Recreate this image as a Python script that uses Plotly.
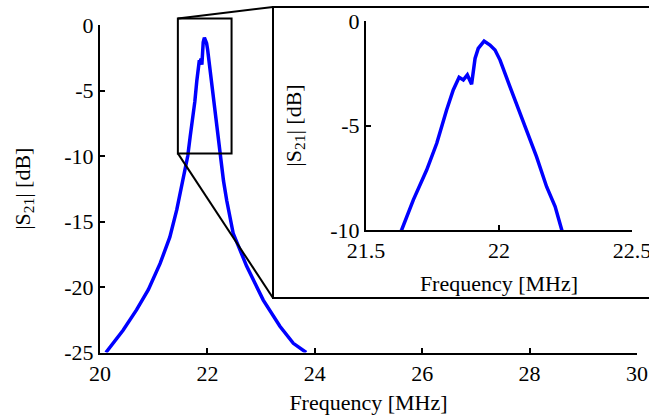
import plotly.graph_objects as go

# measured |S21| curve (MHz, dB)
freq = [20.11, 20.43, 20.68, 20.90, 21.12, 21.30, 21.43, 21.53, 21.634, 21.678,
        21.728, 21.766, 21.803, 21.828, 21.850, 21.866, 21.881, 21.897, 21.910,
        21.922, 21.944, 21.966, 21.985, 22.004, 22.041, 22.092, 22.141, 22.179,
        22.211, 22.236, 22.30, 22.36, 22.48, 22.73, 23.04, 23.35, 23.60, 23.84]
s21 = [-25.0, -23.3, -21.75, -20.2, -18.2, -16.2, -14.1, -12.0, -10.0, -8.56,
       -7.13, -5.85, -4.26, -3.30, -2.69, -2.82, -2.58, -3.03, -1.79,
       -1.31, -0.96, -1.15, -1.39, -1.87, -3.14, -4.89, -6.49, -7.93,
       -8.88, -10.0, -11.9, -13.4, -15.9, -18.4, -21.0, -23.0, -24.3, -25.0]

main_xticks = [20, 22, 24, 26, 28, 30]
main_yticks = [0, -5, -10, -15, -20, -25]
inset_xticks = [21.5, 22, 22.5]
inset_yticks = [0, -5, -10]
zoom_x = [21.45, 22.45]
zoom_y = [-9.8, 0.5]

W, H = 649, 417
FONT = dict(family="Liberation Serif, Times New Roman, serif", size=22, color="black")
BLUE = "#0000ff"

main_xdom = [100 / W, 637 / W]
main_ydom = [1 - 352.5 / H, 1 - 25 / H]
inset_xdom = [366 / W, 632 / W]
inset_ydom = [1 - 230 / H, 1 - 21 / H]
main_xr = [20, 30]
main_yr = [-25, 0]

def to_paper_x(v):
    return main_xdom[0] + (v - main_xr[0]) / (main_xr[1] - main_xr[0]) * (main_xdom[1] - main_xdom[0])

def to_paper_y(v):
    return main_ydom[0] + (v - main_yr[0]) / (main_yr[1] - main_yr[0]) * (main_ydom[1] - main_ydom[0])

def lbl(vals):
    return [("%g" % v).replace("\u2212", "-") for v in vals]

fig = go.Figure()
fig.add_trace(go.Scatter(x=freq, y=s21, mode="lines", line=dict(color=BLUE, width=3.5),
                         xaxis="x", yaxis="y", showlegend=False))
fig.add_trace(go.Scatter(x=freq, y=s21, mode="lines", line=dict(color=BLUE, width=3.5),
                         xaxis="x2", yaxis="y2", showlegend=False))

axis_common = dict(showgrid=False, zeroline=False, showline=True, linecolor="black",
                   linewidth=2, ticks="inside", ticklen=5, tickwidth=1.5, tickcolor="black",
                   tickfont=FONT, mirror=False, automargin=False, ticklabeloverflow="allow")

frame_x0 = 273 / W
frame_y0 = 1 - 298 / H
frame_y1 = 1 - 7 / H

fig.update_layout(
    width=W, height=H,
    margin=dict(l=0, r=0, t=0, b=0),
    paper_bgcolor="white", plot_bgcolor="rgba(0,0,0,0)",
    font=FONT,
    xaxis=dict(domain=main_xdom, range=main_xr, tickvals=main_xticks, ticktext=lbl(main_xticks),
               anchor="y", title=dict(text="Frequency [MHz]", font=FONT, standoff=10),
               **axis_common),
    yaxis=dict(domain=main_ydom, range=main_yr, tickvals=main_yticks, ticktext=lbl(main_yticks),
               anchor="x", title=dict(text="|S<sub>21</sub>| [dB]", font=FONT, standoff=28),
               **axis_common),
    xaxis2=dict(domain=inset_xdom, range=[21.5, 22.5], tickvals=inset_xticks,
                ticktext=lbl(inset_xticks),
                anchor="y2", title=dict(text="Frequency [MHz]", font=FONT, standoff=13),
                **axis_common),
    yaxis2=dict(domain=inset_ydom, range=[-10, 0], tickvals=inset_yticks, ticktext=lbl(inset_yticks),
                anchor="x2", title=dict(text="|S<sub>21</sub>| [dB]", font=FONT, standoff=23),
                **axis_common),
    shapes=[
        # zoom rectangle on main axes (converted to paper coords so it is not clipped)
        dict(type="rect", xref="paper", yref="paper",
             x0=to_paper_x(zoom_x[0]), x1=to_paper_x(zoom_x[1]),
             y0=to_paper_y(zoom_y[0]), y1=to_paper_y(zoom_y[1]),
             line=dict(color="black", width=2)),
        # inset frame
        dict(type="rect", xref="paper", yref="paper", x0=frame_x0, x1=1.02,
             y0=frame_y0, y1=frame_y1, line=dict(color="black", width=2)),
        # connectors
        dict(type="line", xref="paper", yref="paper",
             x0=to_paper_x(zoom_x[0]), y0=to_paper_y(zoom_y[1]), x1=frame_x0, y1=frame_y1,
             line=dict(color="black", width=2)),
        dict(type="line", xref="paper", yref="paper",
             x0=to_paper_x(zoom_x[0]), y0=to_paper_y(zoom_y[0]), x1=frame_x0, y1=frame_y0,
             line=dict(color="black", width=2)),
    ],
)

fig.write_html("out.html")
